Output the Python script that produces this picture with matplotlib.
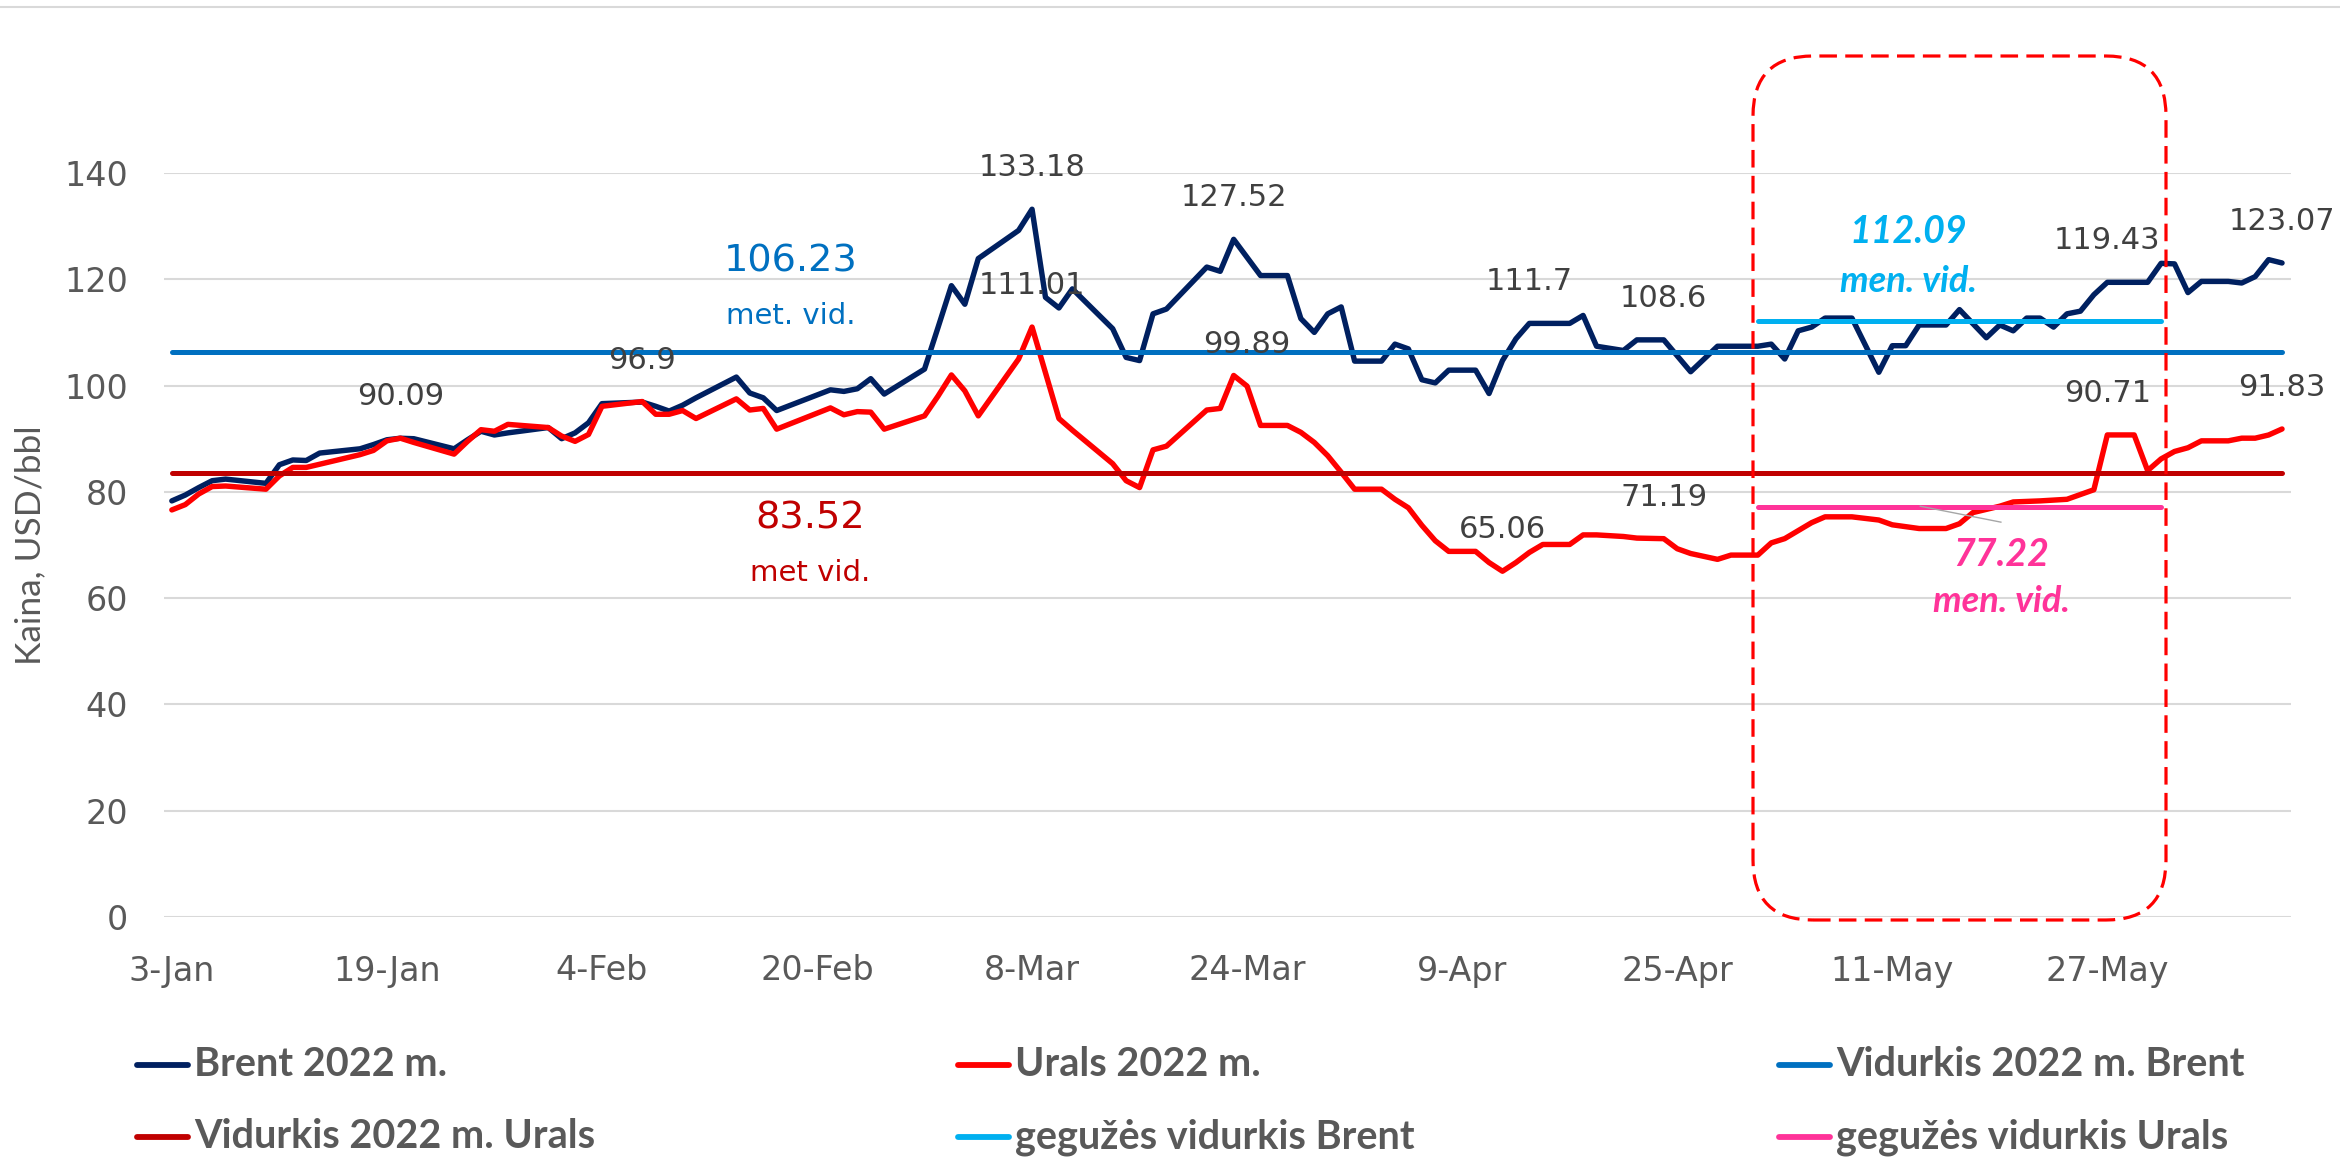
import matplotlib
matplotlib.use('Agg')
import matplotlib.pyplot as plt
from matplotlib.lines import Line2D
from matplotlib.patches import FancyBboxPatch
import pandas as pd

plt.rcParams['font.family'] = ['Lato', 'DejaVu Sans']

# --- data ---
brent_dates = ['01-03', '01-04', '01-05', '01-06', '01-07', '01-10', '01-11', '01-12', '01-13', '01-14',
               '01-17', '01-18', '01-19', '01-20', '01-21', '01-24', '01-25', '01-26', '01-27', '01-28', '01-31',
               '02-01', '02-02', '02-03', '02-04', '02-07', '02-08', '02-09', '02-10', '02-11', '02-14',
               '02-15', '02-16', '02-17', '02-21', '02-22', '02-23', '02-24', '02-25', '02-28',
               '03-01', '03-02', '03-03', '03-04', '03-07', '03-08', '03-09', '03-10', '03-11', '03-14',
               '03-15', '03-16', '03-17', '03-18', '03-21', '03-22', '03-23', '03-25', '03-27', '03-28',
               '03-29', '03-30', '03-31',
               '04-01', '04-03', '04-04', '04-05', '04-06', '04-07', '04-08', '04-10', '04-11', '04-12',
               '04-13', '04-14', '04-17', '04-18', '04-19', '04-21', '04-22', '04-24', '04-26', '04-28',
               '05-01', '05-02', '05-03', '05-04', '05-05', '05-06', '05-08', '05-10', '05-11', '05-12',
               '05-13', '05-15', '05-16', '05-18', '05-19', '05-20', '05-21', '05-22', '05-23', '05-24',
               '05-25', '05-26', '05-27', '05-30', '05-31',
               '06-01', '06-02', '06-03', '06-05', '06-06', '06-07', '06-08', '06-09']
brent = [78.3, 79.4, 80.8, 82.1, 82.4, 81.6, 85.1, 86.0, 85.9, 87.3,
         88.1, 88.9, 89.8, 90.09, 90.0, 88.1, 89.8, 91.4, 90.7, 91.1, 92.1,
         90.0, 91.1, 93.0, 96.6, 96.9, 96.1, 95.2, 96.3, 97.7, 101.6,
         98.6, 97.7, 95.3, 99.2, 98.9, 99.4, 101.3, 98.4, 103.1,
         110.9, 118.8, 115.3, 123.9, 129.2, 133.18, 116.6, 114.6, 118.2, 110.7,
         105.3, 104.7, 113.5, 114.4, 122.3, 121.5, 127.52, 120.7, 120.7, 112.6,
         110.0, 113.5, 114.8,
         104.6, 104.6, 107.8, 106.9, 101.1, 100.5, 102.9, 102.9, 98.5, 104.7,
         108.8, 111.7, 111.7, 113.2, 107.4, 106.6, 108.6, 108.6, 102.6, 107.4,
         107.4, 107.8, 105.0, 110.3, 111.0, 112.7, 112.7, 102.5, 107.5, 107.5,
         111.4, 111.4, 114.3, 109.0, 111.4, 110.3, 112.7, 112.7, 111.0, 113.5,
         114.0, 117.1, 119.43, 119.43, 123.0,
         122.9, 117.5, 119.6, 119.6, 119.3, 120.5, 123.7, 123.07]

urals_dates = ['01-03', '01-04', '01-05', '01-06', '01-07', '01-10', '01-11', '01-12', '01-13', '01-14',
               '01-17', '01-18', '01-19', '01-20', '01-21', '01-24', '01-25', '01-26', '01-27', '01-28', '01-31',
               '02-01', '02-02', '02-03', '02-04', '02-07', '02-08', '02-09', '02-10', '02-11', '02-14',
               '02-15', '02-16', '02-17', '02-21', '02-22', '02-23', '02-24', '02-25', '02-28',
               '03-01', '03-02', '03-03', '03-04', '03-07', '03-08', '03-10', '03-11', '03-14', '03-15',
               '03-16', '03-17', '03-18', '03-21', '03-22', '03-23', '03-24', '03-25', '03-27', '03-28',
               '03-29', '03-30', '03-31',
               '04-01', '04-03', '04-04', '04-05', '04-06', '04-07', '04-08', '04-10', '04-11', '04-12',
               '04-13', '04-14', '04-15', '04-17', '04-18', '04-19', '04-21', '04-22', '04-24', '04-25',
               '04-26', '04-28', '04-29',
               '05-01', '05-02', '05-03', '05-04', '05-05', '05-06', '05-08', '05-10', '05-11', '05-13',
               '05-15', '05-16', '05-17', '05-19', '05-20', '05-22', '05-24', '05-26', '05-27', '05-29',
               '05-30', '05-31',
               '06-01', '06-02', '06-03', '06-05', '06-06', '06-07', '06-08', '06-09']
urals = [76.6, 77.6, 79.6, 81.0, 81.1, 80.5, 83.0, 84.6, 84.6, 85.2,
         87.0, 87.8, 89.6, 90.1, 89.3, 87.1, 89.5, 91.7, 91.4, 92.7, 92.1,
         90.5, 89.5, 90.8, 96.1, 97.0, 94.6, 94.6, 95.3, 93.8, 97.5,
         95.4, 95.7, 91.8, 95.8, 94.5, 95.1, 95.0, 91.8, 94.3,
         98.0, 102.0, 99.0, 94.3, 105.0, 111.01, 93.8, 91.6, 85.3, 82.1,
         80.8, 87.9, 88.6, 95.4, 95.7, 101.9, 99.89, 92.5, 92.5, 91.2,
         89.3, 86.8, 83.7,
         80.5, 80.5, 78.6, 77.0, 73.7, 70.8, 68.8, 68.8, 66.7, 65.06,
         66.7, 68.6, 70.1, 70.1, 71.9, 71.9, 71.6, 71.3, 71.19, 69.3,
         68.4, 67.3, 68.1,
         68.1, 70.4, 71.2, 72.7, 74.2, 75.3, 75.3, 74.7, 73.8, 73.1,
         73.1, 74.0, 76.1, 77.3, 78.1, 78.3, 78.6, 80.4, 90.71, 90.71,
         84.0, 86.2,
         87.6, 88.3, 89.6, 89.6, 90.1, 90.1, 90.7, 91.83]

avg_brent = 106.23
avg_urals = 83.52
may_brent = 112.09
may_urals = 77.22
may_span = ['05-01', '05-31']

# points that carry a value label
brent_labelled = ['01-20', '02-07', '03-08', '03-23', '04-14', '04-24', '05-27', '06-09']
urals_labelled = ['03-08', '03-24', '04-12', '04-24', '05-27', '06-09']

tick_dates = ['01-03', '01-19', '02-04', '02-20', '03-08', '03-24', '04-09', '04-25', '05-11', '05-27']
tick_labels = ['3-Jan', '19-Jan', '4-Feb', '20-Feb', '8-Mar', '24-Mar', '9-Apr', '25-Apr', '11-May', '27-May']


def to_dt(lst):
    return pd.to_datetime(['2022-' + s for s in lst])


bd = to_dt(brent_dates)
ud = to_dt(urals_dates)
md = to_dt(may_span)

W, H = 2340, 1160
fig = plt.figure(figsize=(W / 100, H / 100), dpi=100)
ax = fig.add_axes([164 / W, (H - 917) / H, (2291 - 164) / W, (917 - 173) / H])

c_brent = '#002060'
c_urals = '#FF0000'
c_avg_b = '#0070C0'
c_avg_u = '#C00000'
c_may_b = '#00B0F0'
c_may_u = '#FF3399'

kw = dict(solid_joinstyle='round', solid_capstyle='round', clip_on=False)
ax.plot(bd, brent, color=c_brent, lw=3.9, zorder=3, **kw)
ax.plot(ud, urals, color=c_urals, lw=3.9, zorder=3.1, **kw)
ax.plot([bd[0], bd[-1]], [avg_brent, avg_brent], color=c_avg_b, lw=3.6, zorder=3.2, **kw)
ax.plot([ud[0], ud[-1]], [avg_urals, avg_urals], color=c_avg_u, lw=3.6, zorder=3.3, **kw)
ax.plot(md, [may_brent, may_brent], color=c_may_b, lw=3.6, zorder=3.4, **kw)
ax.plot(md, [may_urals, may_urals], color=c_may_u, lw=3.6, zorder=3.5, **kw)

ax.set_ylim(0, 140)
ax.set_yticks(range(0, 141, 20))
ax.set_xlim(bd[0] - pd.Timedelta(hours=14), bd[-1] + pd.Timedelta(hours=16))
ax.set_xticks(to_dt(tick_dates))
ax.set_xticklabels(tick_labels)
ax.grid(axis='y', color='#D9D9D9', lw=1.5)
ax.set_axisbelow(True)
for s in ax.spines.values():
    s.set_visible(False)
ax.tick_params(length=0, colors='#595959', labelsize=24)
ax.tick_params(axis='y', pad=26)
ax.tick_params(axis='x', pad=27)
for t in ax.get_xticklabels() + ax.get_yticklabels():
    t.set_family('DejaVu Sans')

# value labels above points
lab_kw = dict(textcoords='offset points', xytext=(0, 30), ha='center', va='center',
              fontsize=22, color='#404040', family='DejaVu Sans', zorder=6)
for d in brent_labelled:
    i = brent_dates.index(d)
    ax.annotate(f'{brent[i]:g}', (bd[i], brent[i]), **lab_kw)
for d in urals_labelled:
    i = urals_dates.index(d)
    ax.annotate(f'{urals[i]:g}', (ud[i], urals[i]), **lab_kw)

# average labels
ax.text(pd.Timestamp('2022-02-18 02:00'), 123.4, f'{avg_brent:.2f}', color=c_avg_b,
        fontsize=27.5, ha='center', va='center', family='DejaVu Sans')
ax.text(pd.Timestamp('2022-02-18 02:00'), 113.1, 'met. vid.', color=c_avg_b,
        fontsize=21, ha='center', va='center', family='DejaVu Sans')
ax.text(pd.Timestamp('2022-02-19 12:00'), 74.9, f'{avg_urals:.2f}', color=c_avg_u,
        fontsize=27.5, ha='center', va='center', family='DejaVu Sans')
ax.text(pd.Timestamp('2022-02-19 12:00'), 64.7, 'met vid.', color=c_avg_u,
        fontsize=21, ha='center', va='center', family='DejaVu Sans')
ax.text(pd.Timestamp('2022-05-12 05:00'), 128.9, f'{may_brent:.2f}', color=c_may_b,
        fontsize=27, ha='center', va='center', weight='bold', style='italic')
ax.text(pd.Timestamp('2022-05-12 05:00'), 119.5, 'men. vid.', color=c_may_b,
        fontsize=26, ha='center', va='center', weight='bold', style='italic')
ax.text(pd.Timestamp('2022-05-19 03:00'), 68.3, f'{may_urals:.2f}', color=c_may_u,
        fontsize=27, ha='center', va='center', weight='bold', style='italic')
ax.text(pd.Timestamp('2022-05-19 03:00'), 59.3, 'men. vid.', color=c_may_u,
        fontsize=26, ha='center', va='center', weight='bold', style='italic')
# leader line of the 77.22 label
ax.plot([pd.Timestamp('2022-05-13 02:00'), pd.Timestamp('2022-05-19 02:00')], [77.3, 74.3],
        color='#A6A6A6', lw=1, zorder=3.6)

fig.text(30 / W, 1 - 545 / H, 'Kaina, USD/bbl', rotation=90, ha='center', va='center',
         fontsize=25.5, color='#595959')

# dashed rounded frame around May
box = FancyBboxPatch((17.53, (H - 920) / 100), 4.13, 8.64,
                     boxstyle='round,pad=0,rounding_size=0.6',
                     transform=fig.dpi_scale_trans, fill=False, ec='#FF0000',
                     lw=2.3, ls=(0, (5.5, 2.6)), zorder=10)
fig.add_artist(box)

# thin frame line at the top
fig.add_artist(Line2D([0, 1], [1 - 7 / H, 1 - 7 / H], transform=fig.transFigure,
                      color='#D9D9D9', lw=1.5))

# legend, 3 columns x 2 rows
legend_items = [('Brent 2022 m.', c_brent), ('Urals 2022 m.', c_urals),
                ('Vidurkis 2022 m. Brent', c_avg_b), ('Vidurkis 2022 m. Urals', c_avg_u),
                ('gegužės vidurkis Brent', c_may_b), ('gegužės vidurkis Urals', c_may_u)]
col_x = [134, 955, 1776]
row_y = [1065, 1137]
for k, (name, col) in enumerate(legend_items):
    x0 = col_x[k % 3]
    y0 = 1 - row_y[k // 3] / H
    fig.add_artist(Line2D([(x0 + 3) / W, (x0 + 54) / W], [y0, y0], transform=fig.transFigure,
                          color=col, lw=4.2, solid_capstyle='round'))
    fig.text((x0 + 60) / W, y0, name, ha='left', va='center', fontsize=28.5,
             weight='bold', color='#595959')

fig.savefig('out.png', dpi=100)
